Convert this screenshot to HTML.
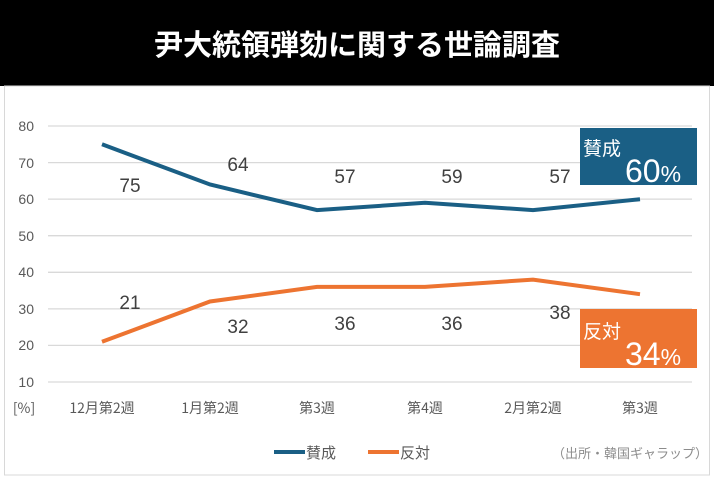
<!DOCTYPE html><html><head><meta charset="utf-8"><style>
body{margin:0;width:714px;height:476px;background:#fff;overflow:hidden;font-family:"Liberation Sans","Noto Sans CJK JP",sans-serif}
</style></head><body>
<svg width="714" height="476" xmlns="http://www.w3.org/2000/svg" font-family="Liberation Sans, Noto Sans CJK JP, sans-serif">
<rect x="0" y="0" width="714" height="86" fill="#000"/>
<text x="357" y="55" fill="#fff" font-size="29" font-weight="bold" text-anchor="middle" font-family="Noto Sans CJK JP, sans-serif">尹大統領弾劾に関する世論調査</text>
<rect x="4.5" y="86" width="705" height="389" fill="#fff" stroke="#d8d8d8"/>
<g stroke="#d9d9d9" stroke-width="1.3">
<line x1="48" x2="692" y1="126" y2="126"/><line x1="48" x2="692" y1="162.6" y2="162.6"/><line x1="48" x2="692" y1="199.1" y2="199.1"/><line x1="48" x2="692" y1="235.7" y2="235.7"/><line x1="48" x2="692" y1="272.3" y2="272.3"/><line x1="48" x2="692" y1="308.9" y2="308.9"/><line x1="48" x2="692" y1="345.4" y2="345.4"/><line x1="48" x2="692" y1="382" y2="382"/>
</g>
<g fill="#595959" font-size="14" text-anchor="end">
<text x="34" y="131">80</text><text x="34" y="168">70</text><text x="34" y="204">60</text><text x="34" y="241">50</text><text x="34" y="277">40</text><text x="34" y="314">30</text><text x="34" y="350">20</text><text x="34" y="387">10</text>
</g>
<g fill="#595959" font-size="14" text-anchor="middle" font-family="Noto Sans CJK JP, sans-serif">
<text x="24" y="413">[%]</text><text x="102" y="413">12月第2週</text><text x="210" y="413">1月第2週</text><text x="317" y="413">第3週</text><text x="425" y="413">第4週</text><text x="533" y="413">2月第2週</text><text x="640" y="413">第3週</text>
</g>
<polyline points="102,144.3 210,184.5 317,210.1 425,202.8 533,210.1 640,199.2" fill="none" stroke="#1a5f85" stroke-width="4"/>
<polyline points="102,341.8 210,301.5 317,286.9 425,286.9 533,279.6 640,294.2" fill="none" stroke="#ed7431" stroke-width="4"/>
<g fill="#404040" font-size="19" text-anchor="middle">
<text x="130" y="192">75</text><text x="238" y="171">64</text><text x="345" y="183">57</text><text x="452" y="183">59</text><text x="560" y="183">57</text>
<text x="130" y="309">21</text><text x="238" y="333">32</text><text x="345" y="330">36</text><text x="452" y="330">36</text><text x="560" y="319">38</text>
</g>
<rect x="580" y="128" width="117" height="57" fill="#1a5f85"/>
<text x="583" y="155" fill="#fff" font-size="19" font-family="Noto Sans CJK JP, sans-serif">賛成</text>
<text x="625" y="182" fill="#fff" font-size="32">60<tspan font-size="23">%</tspan></text>
<rect x="580" y="309" width="117" height="59" fill="#ed7431"/>
<text x="583" y="338" fill="#fff" font-size="19" font-family="Noto Sans CJK JP, sans-serif">反対</text>
<text x="625" y="365" fill="#fff" font-size="32">34<tspan font-size="23">%</tspan></text>
<line x1="274" x2="305" y1="452" y2="452" stroke="#1a5f85" stroke-width="4"/>
<text x="306" y="458" fill="#595959" font-size="15" font-family="Noto Sans CJK JP, sans-serif">賛成</text>
<line x1="368" x2="399" y1="452" y2="452" stroke="#ed7431" stroke-width="4"/>
<text x="400" y="458" fill="#595959" font-size="15" font-family="Noto Sans CJK JP, sans-serif">反対</text>
<text x="708" y="458" fill="#8c8c8c" font-size="13" text-anchor="end" font-family="Noto Sans CJK JP, sans-serif">（出所・韓国ギャラップ）</text>
</svg>
</body></html>
